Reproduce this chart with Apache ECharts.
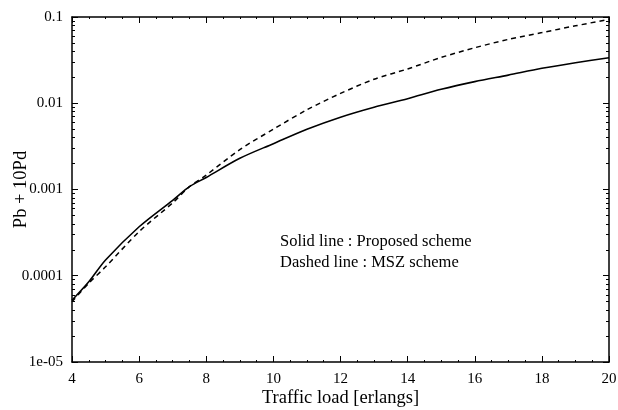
<!DOCTYPE html>
<html lang="en">
<head>
    <meta charset="UTF-8">
    <title>Pb + 10Pd</title>
    <script src="https://cdn.jsdelivr.net/npm/echarts@6/dist/echarts.min.js"></script>
    <style>
        html, body { margin: 0; padding: 0; background: #fff; }
        #main { width: 618px; height: 410px; }
    </style>
</head>
<body>
<div id="main"></div>
<script>
    // traffic load (erlangs)
    var loads = [4, 4.5, 5, 6, 7, 7.5, 8, 9, 10, 11, 12, 13, 14, 15, 16, 17, 18, 19, 20];
    // solid line : proposed scheme
    var proposed = [5.2e-5, 8.5e-5, 1.52e-4, 3.7e-4, 7.5e-4, 1.08e-3, 1.38e-3, 2.3e-3, 3.4e-3,
        5.0e-3, 6.9e-3, 9.0e-3, 0.0113, 0.0145, 0.0178, 0.0212, 0.0254, 0.0295, 0.0337];
    // dashed line : MSZ scheme
    var msz = [5.0e-5, 8.2e-5, 1.27e-4, 3.25e-4, 7.0e-4, 1.08e-3, 1.47e-3, 2.9e-3, 5.0e-3,
        8.4e-3, 0.013, 0.019, 0.025, 0.034, 0.044, 0.055, 0.066, 0.079, 0.094];
    var yTickLabels = {'-5': '1e-05', '-4': '0.0001', '-3': '0.001', '-2': '0.01', '-1': '0.1'};

    var pairs = function (xs, ys) {
        var res = [];
        for (var i = 0; i < xs.length; i++) {
            res.push([xs[i], ys[i]]);
        }
        return res;
    };

    var font = '"Liberation Serif", "DejaVu Serif", serif';
    var axisLine = {show: true, lineStyle: {color: '#000', width: 1.5}};

    var myChart = echarts.init(document.getElementById('main'));
    var option = {
        backgroundColor: '#fff',
        animation: false,
        grid: {left: 72, right: 9, top: 17, bottom: 48, containLabel: false, outerBoundsMode: 'none'},
        xAxis: [{
            type: 'value',
            min: 4, max: 20, interval: 2,
            axisLine: axisLine,
            axisTick: {inside: true, length: 6, lineStyle: {color: '#000'}},
            minorTick: {show: true, splitNumber: 4, length: 2, lineStyle: {color: '#000'}},
            splitLine: {show: false},
            axisLabel: {color: '#000', fontFamily: font, fontSize: 15, margin: 10},
            name: 'Traffic load [erlangs]',
            nameLocation: 'middle',
            nameGap: 27,
            nameMoveOverlap: false,
            nameTextStyle: {color: '#000', fontFamily: font, fontSize: 18.5}
        }, {
            type: 'value',
            position: 'top',
            min: 4, max: 20, interval: 2,
            axisLine: axisLine,
            axisTick: {inside: true, length: 6, lineStyle: {color: '#000'}},
            minorTick: {show: true, splitNumber: 4, length: 2, lineStyle: {color: '#000'}},
            splitLine: {show: false},
            axisLabel: {show: false}
        }],
        yAxis: [{
            type: 'log',
            logBase: 10,
            min: 1e-5, max: 0.1,
            axisLine: axisLine,
            axisTick: {inside: true, length: 6, lineStyle: {color: '#000'}},
            minorTick: {show: true, splitNumber: 9, length: 3, lineStyle: {color: '#000'}},
            splitLine: {show: false},
            axisLabel: {
                color: '#000', fontFamily: font, fontSize: 15, margin: 9,
                formatter: function (v) {
                    var k = Math.round(Math.log(v) / Math.LN10);
                    return yTickLabels[String(k)] || '';
                }
            },
            name: 'Pb + 10Pd',
            nameLocation: 'middle',
            nameGap: 41,
            nameRotate: 90,
            nameMoveOverlap: false,
            nameTextStyle: {color: '#000', fontFamily: font, fontSize: 18.5}
        }, {
            type: 'log',
            logBase: 10,
            position: 'right',
            min: 1e-5, max: 0.1,
            axisLine: axisLine,
            axisTick: {inside: true, length: 6, lineStyle: {color: '#000'}},
            minorTick: {show: true, splitNumber: 9, length: 3, lineStyle: {color: '#000'}},
            splitLine: {show: false},
            axisLabel: {show: false}
        }],
        graphic: [{
            type: 'text',
            left: 280,
            top: 231,
            style: {
                text: 'Solid line : Proposed scheme\nDashed line : MSZ scheme',
                font: '16.5px ' + font,
                fill: '#000',
                lineHeight: 21
            }
        }],
        series: [{
            name: 'Proposed scheme',
            type: 'line',
            data: pairs(loads, proposed),
            smooth: 0.3,
            showSymbol: false,
            lineStyle: {color: '#000', width: 1.6}
        }, {
            name: 'MSZ scheme',
            type: 'line',
            data: pairs(loads, msz),
            smooth: 0.3,
            showSymbol: false,
            lineStyle: {color: '#000', width: 1.5, type: [5, 4]}
        }]
    };
    myChart.setOption(option);
</script>
</body>
</html>
